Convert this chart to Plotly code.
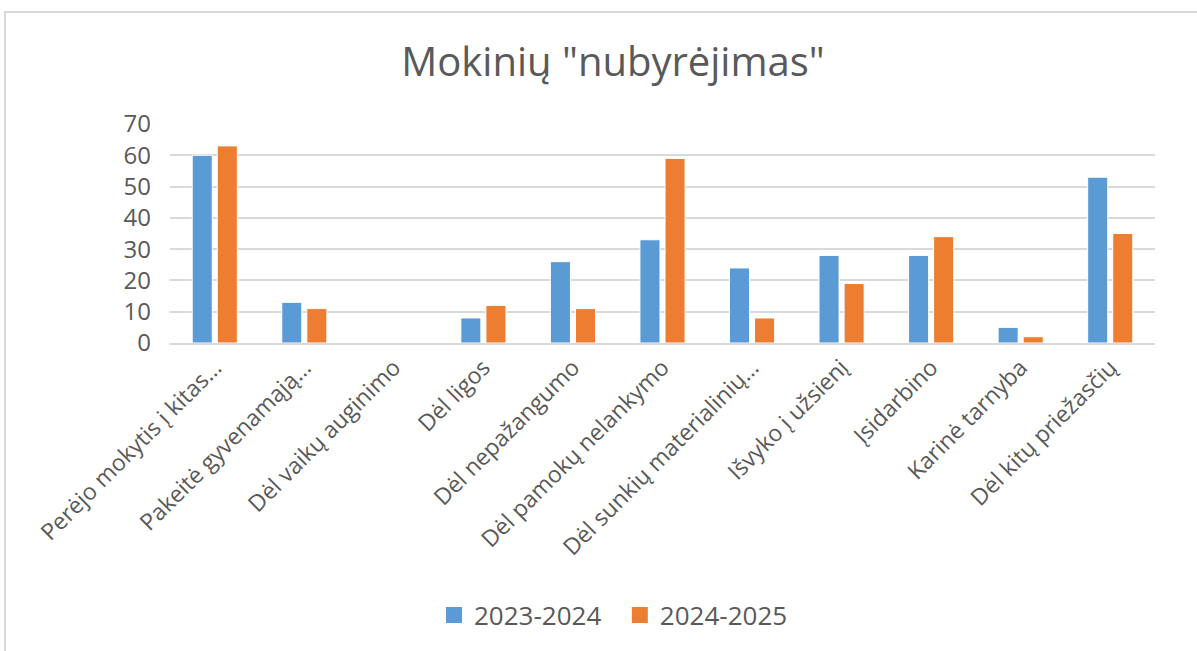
import plotly.graph_objects as go

categories = [
    "Perėjo mokytis į kitas…",
    "Pakeitė gyvenamąją…",
    "Dėl vaikų auginimo",
    "Dėl ligos",
    "Dėl nepažangumo",
    "Dėl pamokų nelankymo",
    "Dėl sunkių materialinių…",
    "Išvyko į užsienį",
    "Įsidarbino",
    "Karinė tarnyba",
    "Dėl kitų priežasčių",
]
series_2023 = [60, 13, 0, 8, 26, 33, 24, 28, 28, 5, 53]
series_2024 = [63, 11, 0, 12, 11, 59, 8, 19, 34, 2, 35]
series_names = ["2023-2024", "2024-2025"]
colors = ["#5b9bd5", "#ed7d31"]
y_ticks = [0, 10, 20, 30, 40, 50, 60, 70]

FONT = "Open Sans"
GREY = "#595959"

fig = go.Figure()
for name, vals, col in zip(series_names, [series_2023, series_2024], colors):
    fig.add_trace(go.Bar(name=name, x=categories, y=vals, showlegend=False,
                         marker=dict(color=col, line=dict(color="#ffffff", width=1))))
# legend entries with square markers
for name, col in zip(series_names, colors):
    fig.add_trace(go.Scatter(name=name + "  ", x=[None], y=[None], mode="markers",
                             marker=dict(symbol="square", size=16, color=col)))

fig.update_layout(
    width=1197, height=651,
    margin=dict(l=170, r=42, t=124, b=308, autoexpand=False),
    paper_bgcolor="white", plot_bgcolor="white",
    title=dict(text='Mokinių "nubyrėjimas"', x=613 / 1197, xref="container", xanchor="center",
               y=1 - 62 / 651, yref="container", yanchor="middle",
               font=dict(family=FONT, size=40, color=GREY)),
    barmode="group", bargap=0.44, bargroupgap=0.2,
    font=dict(family=FONT, color=GREY),
    legend=dict(orientation="h", x=620 / 1197, xanchor="center", xref="container",
                y=1 - 615 / 651, yref="container", yanchor="middle",
                font=dict(family=FONT, size=26, color=GREY),
                itemwidth=30, tracegroupgap=0),
    xaxis=dict(tickangle=-45, tickfont=dict(family=FONT, size=23, color=GREY),
               showgrid=False, showline=True, linecolor="#d9d9d9", linewidth=2,
               ticks=""),
    yaxis=dict(range=[0, 70], tickvals=y_ticks, showgrid=True, gridcolor="#d9d9d9",
               gridwidth=2, zeroline=False, showline=False, ticks="",
               tickfont=dict(family=FONT, size=24, color=GREY), ticklabelstandoff=18),
    shapes=[dict(type="rect", xref="paper", yref="paper",
                 x0=(5 - 170) / 985, x1=(1205 - 170) / 985,
                 y0=(343 - 660) / 219, y1=(343 - 12) / 219,
                 line=dict(color="#d9d9d9", width=2), fillcolor="rgba(0,0,0,0)",
                 layer="below")],
)

fig.write_html("out.html", config={"displayModeBar": False},
               post_script="document.body.style.margin='0';document.body.style.overflow='hidden';")
